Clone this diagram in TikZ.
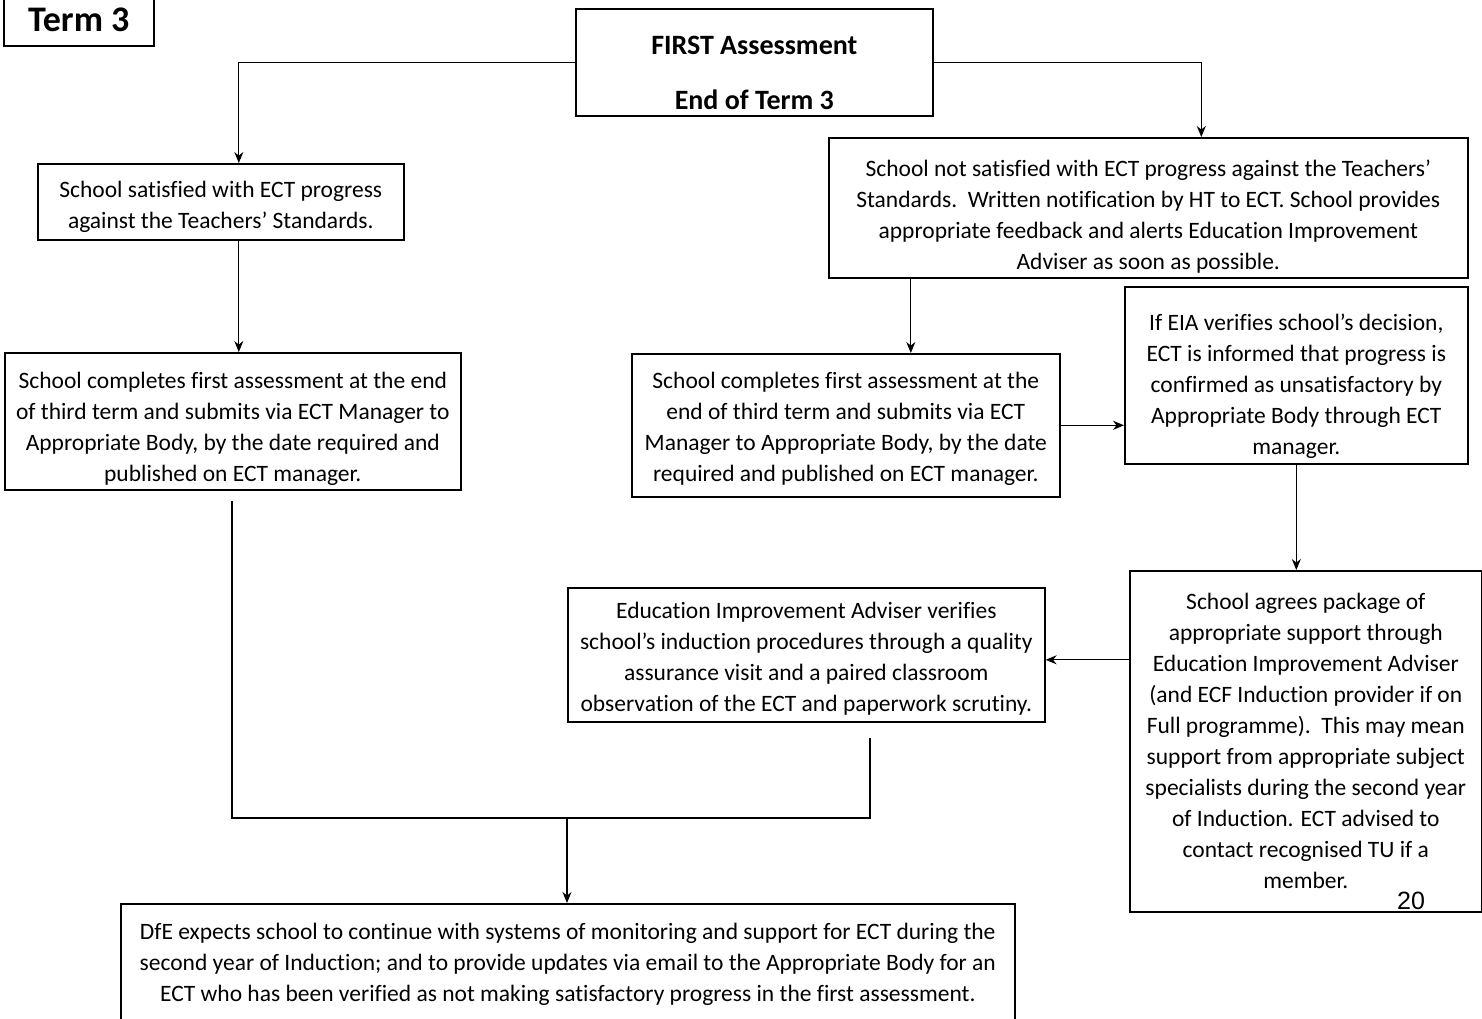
\documentclass[tikz,border=0pt]{standalone}
\usepackage{fontspec}
\setmainfont{Carlito}[Ligatures=NoCommon]
\newfontfamily\numfont{Liberation Sans}
\usetikzlibrary{arrows.meta}
\newcommand\dn[1]{\rule{0pt}{\dimexpr 0.75em+#1pt\relax}}
\begin{document}
\begin{tikzpicture}[x=1pt,y=-1pt,
  box/.style={draw, line width=1.6pt, anchor=north west, align=center, inner sep=0pt,
    font=\fontsize{23.5}{31}\selectfont},
  conn/.style={line width=1.2pt},
  arr/.style={conn, -{Stealth[length=11pt,width=9pt]}}]
\useasboundingbox (0,0) rectangle (1482,1018);

\node[box, minimum width=150pt, minimum height=52pt, font=\fontsize{36}{40}\bfseries] (T) at (3,-7) {\raisebox{-4pt}{Term 3}};

\node[box, minimum width=357pt, minimum height=107pt, font=\fontsize{28}{55}\bfseries] (F1) at (575,8) {\dn{18}FIRST Assessment\\End of Term 3};

\node[box, minimum width=366pt, minimum height=76pt] (A) at (37,163)
 {\dn{8}School satisfied with ECT progress\\against the Teachers’ Standards.};

\node[box, minimum width=639pt, minimum height=140pt] (B) at (828,137)
 {\dn{16}School not satisfied with ECT progress against the Teachers’\\
  Standards.\ \ Written notification by HT to ECT. School provides\\
  appropriate feedback and alerts Education Improvement\\
  Adviser as soon as possible.};

\node[box, minimum width=456pt, minimum height=137pt] (C) at (4,352)
 {\dn{14}School completes first assessment at the end\\
  of third term and submits via ECT Manager to\\
  Appropriate Body, by the date required and\\
  published on ECT manager.};

\node[box, minimum width=428pt, minimum height=143pt] (D) at (631,353)
 {\dn{6}School completes first assessment at the\\
  end of third term and submits via ECT\\
  Manager to Appropriate Body, by the date\\
  required and published on ECT manager.};

\node[box, minimum width=343pt, minimum height=177pt] (E) at (1124,286)
 {\dn{20}If EIA verifies school’s decision,\\
  ECT is informed that progress is\\
  confirmed as unsatisfactory by\\
  Appropriate Body through ECT\\
  manager.};

\node[box, minimum width=352pt, minimum height=341pt] (F) at (1129,570)
 {School agrees package of\\
  appropriate support through\\
  Education Improvement Adviser\\
  (and ECF Induction provider if on\\
  Full programme).\ \ This may mean\\
  support from appropriate subject\\
  specialists during the second year\\
  of Induction. ECT advised to\\
  contact recognised TU if a\\
  member.};

\node[box, minimum width=477pt, minimum height=134pt] (G) at (567,587)
 {\dn{6}Education Improvement Adviser verifies\\
  school’s induction procedures through a quality\\
  assurance visit and a paired classroom\\
  observation of the ECT and paperwork scrutiny.};

\node[box, minimum width=894pt, minimum height=130pt, text depth=18pt] (H) at (120,903)
 {\dn{4}DfE expects school to continue with systems of monitoring and support for ECT during the\\
  second year of Induction; and to provide updates via email to the Appropriate Body for an\\
  ECT who has been verified as not making satisfactory progress in the first assessment.};

\node[font=\numfont\fontsize{25}{28}\selectfont, inner sep=0pt] (pg) at (1411,901) {20};

% connectors
\draw[arr] (F1.west) -| ([xshift=18pt]A.north);
\draw[arr] (F1.east) -| ([xshift=53pt]B.north);
\draw[arr] ([xshift=18pt]A.south) -- ([xshift=18pt]A.south |- C.north);
\draw[arr] ([xshift=65pt]D.north |- B.south) -- ([xshift=65pt]D.north);
\draw[arr] (D.east) -- (D.east -| E.west);
\draw[arr] (E.south) -- (E.south |- F.north);
\draw[arr] ([yshift=-5pt]F.west |- G.east) -- ([yshift=-5pt]G.east);

\coordinate (c1) at (232,501);
\coordinate (c2) at (870,738);
\coordinate (m1) at (232,818);
\coordinate (m2) at (870,818);
\coordinate (j) at (567,818);
\draw[conn] (c1) -- (m1) -- (m2) -- (c2);
\draw[arr] (j) -- (j |- H.north);
\end{tikzpicture}
\end{document}
